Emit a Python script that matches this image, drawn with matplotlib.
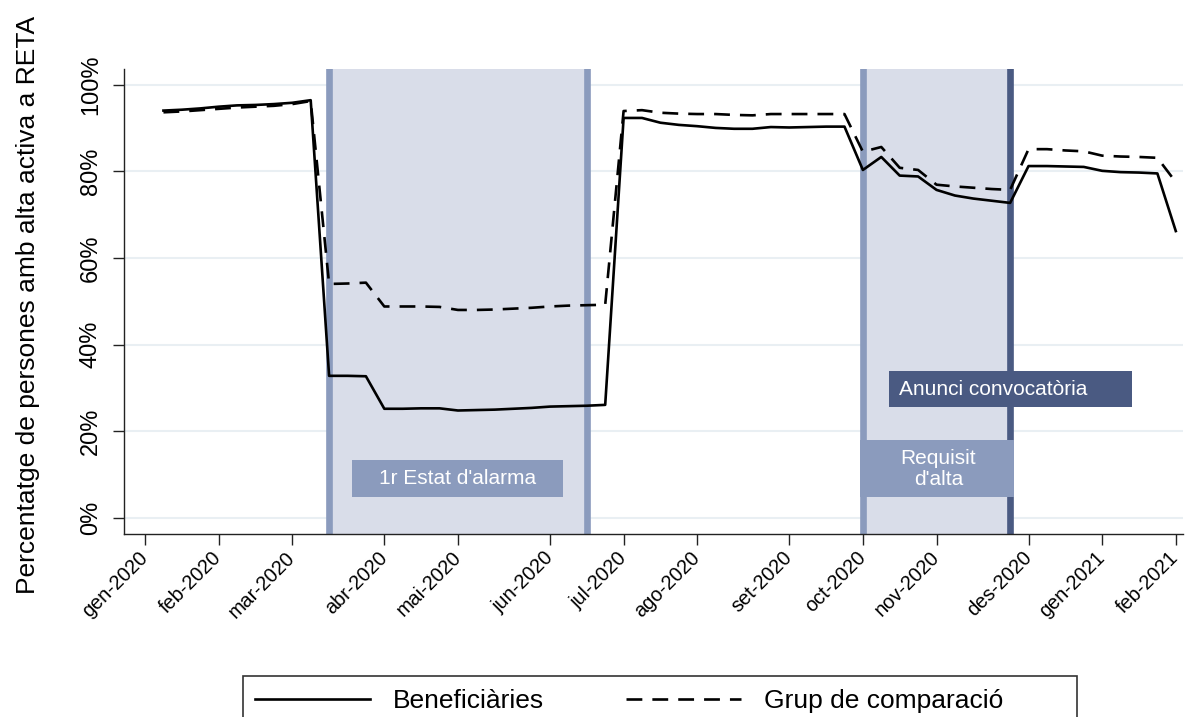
import matplotlib
matplotlib.use("Agg")
import matplotlib.pyplot as plt
from matplotlib.patches import Rectangle

plt.rcParams['font.family'] = ['Liberation Sans', 'DejaVu Sans']

# setmanes (index setmanal, 0 = inici gen-2020)
setmanes = list(range(1, 57))

beneficiaries = [94.0, 94.2, 94.5, 94.9, 95.2, 95.3, 95.5, 95.8, 96.4,
                 32.8, 32.8, 32.7, 25.2, 25.2, 25.3, 25.3, 24.8, 24.9, 25.0,
                 25.2, 25.4, 25.7, 25.8, 25.9, 26.1,
                 92.3, 92.3, 91.2, 90.7, 90.4, 90.0, 89.8, 89.8, 90.2, 90.1,
                 90.2, 90.3, 90.3,
                 80.3, 83.3, 79.0, 78.8, 75.7, 74.4, 73.7, 73.2, 72.7,
                 81.2, 81.2, 81.1, 81.0, 80.1, 79.8, 79.7, 79.5, 66.2]

comparacio = [93.6, 93.8, 94.1, 94.4, 94.7, 94.9, 95.1, 95.5, 96.2,
              54.0, 54.1, 54.3, 48.8, 48.8, 48.8, 48.7, 48.0, 48.0, 48.1,
              48.3, 48.5, 48.8, 49.0, 49.1, 49.2,
              93.9, 94.1, 93.5, 93.3, 93.2, 93.2, 93.0, 92.9, 93.2, 93.2,
              93.2, 93.2, 93.2,
              84.5, 85.6, 80.8, 80.3, 76.9, 76.5, 76.2, 75.9, 75.7,
              85.1, 85.1, 84.8, 84.6, 83.6, 83.4, 83.3, 83.1, 77.5]

mesos_pos = [0, 4, 8, 13, 17, 22, 26, 30, 35, 39, 43, 48, 52, 56]
mesos = ['gen-2020', 'feb-2020', 'mar-2020', 'abr-2020', 'mai-2020',
         'jun-2020', 'jul-2020', 'ago-2020', 'set-2020', 'oct-2020',
         'nov-2020', 'des-2020', 'gen-2021', 'feb-2021']

y_ticks = [0, 20, 40, 60, 80, 100]

# periodes: estat d'alarma (10-24), requisit d'alta (39-47)
alarma = (10, 24)
requisit = (39, 47)

c_clar = '#d9dde9'
c_mig = '#8b9bbd'
c_fosc = '#4a5a82'

fig = plt.figure(figsize=(11.86, 7.17), dpi=100)
ax = fig.add_axes([0.1046, 0.2552, 0.893, 0.6486])

for y in y_ticks:
    ax.axhline(y, color='#e9eff3', lw=1.5, zorder=0)

ax.axvspan(*alarma, color=c_clar, lw=0, zorder=1)
ax.axvspan(*requisit, color=c_clar, lw=0, zorder=1)
ax.axvline(alarma[0], color=c_mig, lw=4.8, zorder=2)
ax.axvline(alarma[1], color=c_mig, lw=4.8, zorder=2)
ax.axvline(requisit[0], color=c_mig, lw=4.8, zorder=2)
ax.axvline(requisit[1], color=c_fosc, lw=4.8, zorder=2)

# caixes d'anotacio
ax.add_patch(Rectangle((11.26, 4.8), 11.47, 8.6, fc=c_mig, ec='none', zorder=3))
ax.text(17.0, 9.1, "1r Estat d'alarma", color='white', fontsize=15,
        ha='center', va='center', zorder=4)
ax.add_patch(Rectangle((38.85, 4.8), 8.35, 13.2, fc=c_mig, ec='none', zorder=3))
ax.text(43.1, 11.3, "Requisit\nd'alta", color='white', fontsize=15,
        ha='center', va='center', linespacing=1.1, zorder=4)
ax.add_patch(Rectangle((40.4, 25.6), 13.2, 8.3, fc=c_fosc, ec='none', zorder=3))
ax.text(40.95, 29.7, "Anunci convocatòria", color='white', fontsize=15,
        ha='left', va='center', zorder=4)

l1, = ax.plot(setmanes, beneficiaries, color='black', lw=1.9, zorder=5)
l2, = ax.plot(setmanes, comparacio, color='black', lw=1.9, zorder=5,
              dashes=(6.0, 3.8))

ax.set_xlim(-1.14, 56.4)
ax.set_ylim(-3.7, 103.6)

ax.set_xticks(mesos_pos)
ax.set_xticklabels(mesos, rotation=45, ha='right', va='center',
                   rotation_mode='anchor', fontsize=14.3)
ax.set_yticks(y_ticks)
ax.set_yticklabels([f'{v}%' for v in y_ticks], rotation=90, va='center',
                   fontsize=17)
ax.tick_params(axis='x', length=8, width=1, pad=7, color='#222222')
ax.tick_params(axis='y', length=8, width=1, pad=8, color='#222222')

for s in ['top', 'right']:
    ax.spines[s].set_visible(False)
for s in ['left', 'bottom']:
    ax.spines[s].set_color('#222222')
    ax.spines[s].set_linewidth(1.0)

fig.text(28 / 1186, 0.5746, 'Percentatge de persones amb alta activa a RETA',
         rotation=90, ha='center', va='center', fontsize=19)

fig.legend([l1, l2], ['Beneficiàries', 'Grup de comparació'],
           loc='center', bbox_to_anchor=(0.5304, 0.0223), ncol=2,
           frameon=False, fontsize=19, handlelength=4.36,
           handletextpad=0.87, columnspacing=3.1)
fig.add_artist(Rectangle((243 / 1186, -0.02), (1077 - 243) / 1186,
                         (717 - 676) / 717 + 0.02, transform=fig.transFigure,
                         fill=False, ec='#333333', lw=1.2))

fig.savefig('out.png', dpi=100)
